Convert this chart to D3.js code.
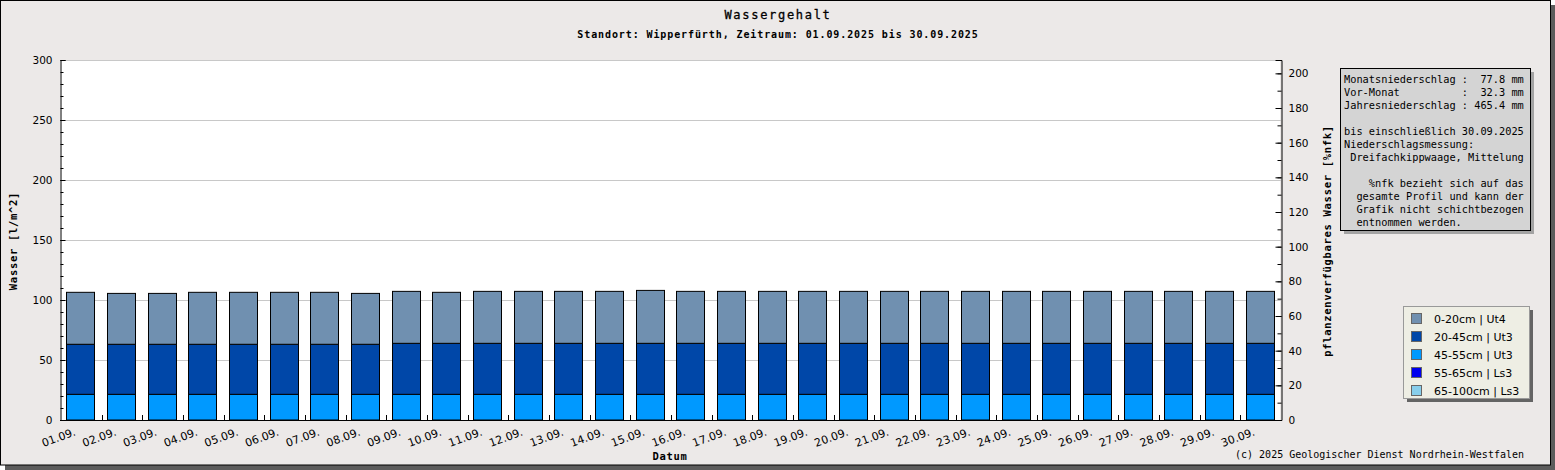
<!DOCTYPE html>
<html>
<head>
<meta charset="utf-8">
<script src="https://cdn.jsdelivr.net/npm/d3@7"></script>
<style>
  body { margin: 0; background: #fff; }
  text { fill: #000; }
</style>
</head>
<body>
<svg id="chart" width="1555" height="470"></svg>
<script>
// tage im september
var days = ['01.09.', '02.09.', '03.09.', '04.09.', '05.09.', '06.09.', '07.09.', '08.09.', '09.09.', '10.09.',
  '11.09.', '12.09.', '13.09.', '14.09.', '15.09.', '16.09.', '17.09.', '18.09.', '19.09.', '20.09.',
  '21.09.', '22.09.', '23.09.', '24.09.', '25.09.', '26.09.', '27.09.', '28.09.', '29.09.', '30.09.'];

// wasser je schicht [l/m^2]
var w0_20 = [43.3, 42.4, 42.4, 43.3, 43.3, 43.3, 43.3, 42.4, 43.3, 42.5,
  43.3, 43.3, 43.3, 43.3, 44.1, 43.3, 43.3, 43.3, 43.3, 43.3,
  43.3, 43.3, 43.3, 43.3, 43.3, 43.3, 43.3, 43.3, 43.3, 43.3];
var w20_45 = [41.7, 41.7, 41.7, 41.7, 41.7, 41.7, 41.7, 41.7, 42.5, 42.5,
  42.5, 42.5, 42.5, 42.5, 42.5, 42.5, 42.5, 42.5, 42.5, 42.5,
  42.5, 42.5, 42.5, 42.5, 42.5, 42.5, 42.5, 42.5, 42.5, 42.5];
var w45_55 = [21.4, 21.4, 21.4, 21.4, 21.4, 21.4, 21.4, 21.4, 21.4, 21.4,
  21.4, 21.4, 21.4, 21.4, 21.4, 21.4, 21.4, 21.4, 21.4, 21.4,
  21.4, 21.4, 21.4, 21.4, 21.4, 21.4, 21.4, 21.4, 21.4, 21.4];
var w55_65 = [0, 0, 0, 0, 0, 0, 0, 0, 0, 0, 0, 0, 0, 0, 0, 0, 0, 0, 0, 0, 0, 0, 0, 0, 0, 0, 0, 0, 0, 0];
var w65_100 = [0, 0, 0, 0, 0, 0, 0, 0, 0, 0, 0, 0, 0, 0, 0, 0, 0, 0, 0, 0, 0, 0, 0, 0, 0, 0, 0, 0, 0, 0];

// legende (oben nach unten)
var layerKeys = ['0-20cm | Ut4', '20-45cm | Ut3', '45-55cm | Ut3', '55-65cm | Ls3', '65-100cm | Ls3'];
var layerColors = ['#7090b0', '#0047a8', '#0099ff', '#0000ee', '#87ceeb'];
var layerValues = [w0_20, w20_45, w45_55, w55_65, w65_100];

var leftTicks = [0, 50, 100, 150, 200, 250, 300];
var rightTicks = [0, 20, 40, 60, 80, 100, 120, 140, 160, 180, 200];

var infoLines = [
  'Monatsniederschlag :  77.8 mm',
  'Vor-Monat          :  32.3 mm',
  'Jahresniederschlag : 465.4 mm',
  '',
  'bis einschließlich 30.09.2025',
  'Niederschlagsmessung:',
  ' Dreifachkippwaage, Mittelung',
  '',
  '    %nfk bezieht sich auf das',
  '  gesamte Profil und kann der',
  '  Grafik nicht schichtbezogen',
  '  entnommen werden.'
];

var MONO = '"DejaVu Sans Mono", "Liberation Mono", monospace';
var SANS = '"DejaVu Sans", Verdana, sans-serif';

var svg = d3.select('#chart');
var plot = { left: 60, right: 1280, top: 60, bottom: 420 };

// rahmen mit schatten
svg.append('rect').attr('x', 5).attr('y', 5).attr('width', 1550).attr('height', 465).attr('fill', '#5c5c5c');
svg.append('rect').attr('x', 0.5).attr('y', 0.5).attr('width', 1550).attr('height', 464.5)
  .attr('fill', '#ece9e8').attr('stroke', '#000');

svg.append('rect').attr('x', plot.left).attr('y', plot.top)
  .attr('width', plot.right - plot.left).attr('height', plot.bottom - plot.top).attr('fill', '#fff');

var x = d3.scaleBand().domain(days).range([plot.left, plot.right])
  .paddingInner(0.31).paddingOuter(0.155);
var y = d3.scaleLinear().domain([0, 300]).range([plot.bottom, plot.top]);
var y2 = d3.scaleLinear().domain([0, 207.7]).range([plot.bottom, plot.top]);

// gitter
svg.append('g').selectAll('line').data(leftTicks.filter(function (d) { return d > 0; }))
  .join('line')
  .attr('x1', plot.left).attr('x2', plot.right + 1)
  .attr('y1', function (d) { return Math.round(y(d)) + 0.5; })
  .attr('y2', function (d) { return Math.round(y(d)) + 0.5; })
  .attr('stroke', '#c8c8c8');

// stapel
var table = days.map(function (d, i) {
  var row = { day: d };
  layerKeys.forEach(function (k, j) { row[k] = layerValues[j][i]; });
  return row;
});
var stackOrder = layerKeys.slice().reverse();
var series = d3.stack().keys(stackOrder)(table);

svg.append('g').selectAll('g').data(series).join('g')
  .attr('fill', function (s) { return layerColors[layerKeys.indexOf(s.key)]; })
  .selectAll('rect').data(function (s) { return s.filter(function (p) { return p[1] - p[0] > 0; }); })
  .join('rect')
  .attr('x', function (p) { return Math.round(x(p.data.day)) + 0.5; })
  .attr('width', Math.round(x.bandwidth()))
  .attr('y', function (p) { return y(p[1]); })
  .attr('height', function (p) { return y(p[0]) - y(p[1]); })
  .attr('stroke', '#000').attr('stroke-width', 1);

// linke achse
var axL = svg.append('g').attr('transform', 'translate(' + (plot.left + 0.5) + ',0)')
  .call(d3.axisLeft(y).tickValues(leftTicks).tickSize(-5).tickPadding(8));
axL.append('g').call(d3.axisLeft(y).tickValues(d3.range(0, 301, 10)).tickSize(-3).tickFormat(''))
  .select('.domain').remove();

// rechte achse
var axR = svg.append('g').attr('transform', 'translate(' + (plot.right + 1.5) + ',0)')
  .call(d3.axisRight(y2).tickValues(rightTicks).tickSize(-6).tickPadding(7));
axR.append('g').call(d3.axisRight(y2).tickValues(d3.range(0, 201, 10)).tickSize(-4).tickFormat(''))
  .select('.domain').remove();

[axL, axR].forEach(function (a) {
  a.select('.domain').attr('stroke', '#000');
  a.selectAll('text').attr('font-family', SANS).attr('font-size', 10.5).attr('fill', '#111');
  a.selectAll('line').attr('stroke', '#000');
});

// x achse
svg.append('line').attr('x1', plot.left).attr('x2', plot.right + 2)
  .attr('y1', plot.bottom + 0.5).attr('y2', plot.bottom + 0.5).attr('stroke', '#000');
var step = x.step();
svg.append('g').selectAll('line').data(days.slice(1)).join('line')
  .attr('x1', function (d) { return Math.round(x(d) - step * 0.155) + 1.5; })
  .attr('x2', function (d) { return Math.round(x(d) - step * 0.155) + 1.5; })
  .attr('y1', plot.bottom - 5).attr('y2', plot.bottom)
  .attr('stroke', '#000');
svg.append('g').selectAll('text').data(days).join('text')
  .attr('transform', function (d) {
    return 'translate(' + (x(d) + x.bandwidth() / 2 - 4) + ',435) rotate(-20)';
  })
  .attr('text-anchor', 'end')
  .attr('font-family', SANS).attr('font-size', 11).attr('fill', '#111')
  .text(function (d) { return d; });

// titel
svg.append('text').attr('x', 778).attr('y', 18.5).attr('text-anchor', 'middle')
  .attr('font-family', MONO).attr('font-size', 12).attr('letter-spacing', 1.7)
  .attr('stroke', '#000').attr('stroke-width', 0.3)
  .text('Wassergehalt');
svg.append('text').attr('x', 778).attr('y', 37.5).attr('text-anchor', 'middle')
  .attr('font-family', MONO).attr('font-size', 10).attr('font-weight', 'bold').attr('letter-spacing', 0.9)
  .text('Standort: Wipperfürth, Zeitraum: 01.09.2025 bis 30.09.2025');

// achsentitel
svg.append('text').attr('transform', 'translate(17,241) rotate(-90)').attr('text-anchor', 'middle')
  .attr('font-family', MONO).attr('font-size', 10.5).attr('font-weight', 'bold').attr('letter-spacing', 0.7)
  .text('Wasser [l/m^2]');
svg.append('text').attr('transform', 'translate(1331,241) rotate(-90)').attr('text-anchor', 'middle')
  .attr('font-family', MONO).attr('font-size', 10.5).attr('font-weight', 'bold').attr('letter-spacing', 0.7)
  .text('pflanzenverfügbares Wasser [%nfk]');
svg.append('text').attr('x', 670).attr('y', 460).attr('text-anchor', 'middle')
  .attr('font-family', MONO).attr('font-size', 10.5).attr('font-weight', 'bold').attr('letter-spacing', 0.7)
  .text('Datum');
svg.append('text').attr('x', 1524).attr('y', 458).attr('text-anchor', 'end')
  .attr('font-family', MONO).attr('font-size', 10)
  .text('(c) 2025 Geologischer Dienst Nordrhein-Westfalen');

// info kasten
var info = svg.append('g').attr('transform', 'translate(1340,68)');
info.append('rect').attr('x', 4).attr('y', 4).attr('width', 190).attr('height', 162).attr('fill', '#a3a3a3');
info.append('rect').attr('x', 0.5).attr('y', 0.5).attr('width', 190).attr('height', 162)
  .attr('fill', '#d4d4d4').attr('stroke', '#000');
info.selectAll('text.l').data(infoLines).join('text')
  .attr('class', 'l')
  .attr('x', 4).attr('y', function (d, i) { return 15.3 + i * 13; })
  .attr('xml:space', 'preserve').style('white-space', 'pre')
  .attr('font-family', MONO).attr('font-size', 10.3)
  .text(function (d) { return d; });

// legende
var leg = svg.append('g').attr('transform', 'translate(1403,306)');
leg.append('rect').attr('x', 4).attr('y', 4).attr('width', 126).attr('height', 92).attr('fill', '#646464');
leg.append('rect').attr('x', 0.5).attr('y', 0.5).attr('width', 126).attr('height', 92)
  .attr('fill', '#eeeee4').attr('stroke', '#999');
var rows = leg.selectAll('g.row').data(layerKeys).join('g').attr('class', 'row')
  .attr('transform', function (d, i) { return 'translate(0,' + (i * 18) + ')'; });
rows.append('rect').attr('x', 8.5).attr('y', 7.5).attr('width', 10).attr('height', 10)
  .attr('fill', function (d, i) { return layerColors[i]; }).attr('stroke', '#666');
rows.append('text').attr('x', 31).attr('y', 16.5)
  .attr('font-family', SANS).attr('font-size', 11).attr('fill', '#111')
  .text(function (d) { return d; });
</script>
</body>
</html>
